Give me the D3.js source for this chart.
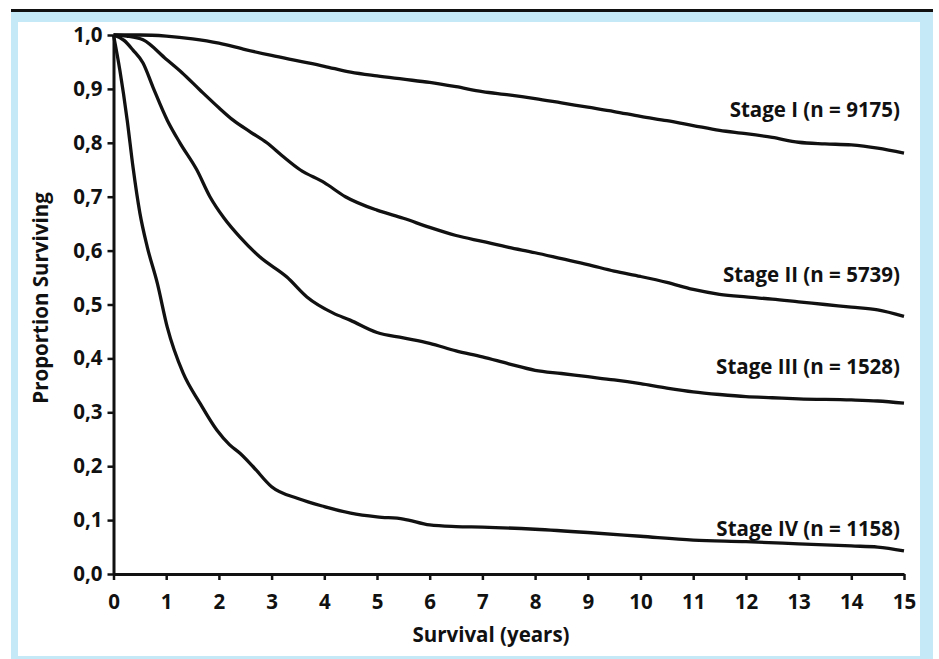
<!DOCTYPE html>
<html>
<head>
<meta charset="utf-8">
<script src="https://cdn.jsdelivr.net/npm/d3@7"></script>
<style>
  body { margin: 0; background: #fff; }
  text { font-family: "Open Sans", "Noto Sans", sans-serif; font-weight: 700; fill: #111; }
</style>
</head>
<body>
<div id="chart"></div>
<script>
// survival curves (years, proportion)
const stage1T = [0, 0.5, 1, 1.5, 2, 2.5, 3, 3.5, 4, 4.5, 5, 5.5, 6, 6.5, 7, 7.5, 8, 8.5, 9, 9.5, 10, 10.5, 11, 11.5, 12, 12.5, 13, 13.5, 14, 14.5, 15];
const stage1S = [1.0, 1.0, 0.998, 0.993, 0.985, 0.973, 0.962, 0.952, 0.942, 0.931, 0.924, 0.918, 0.912, 0.904, 0.895, 0.889, 0.882, 0.874, 0.866, 0.858, 0.849, 0.841, 0.832, 0.823, 0.817, 0.81, 0.801, 0.798, 0.796, 0.79, 0.781];

const stage2T = [0, 0.25, 0.56, 1, 1.3, 1.64, 2, 2.27, 2.6, 2.91, 3.2, 3.54, 4, 4.4, 5, 5.5, 6, 6.5, 7, 7.5, 8, 8.5, 9, 9.5, 10, 10.5, 11, 11.5, 12, 12.5, 13, 13.5, 14, 14.5, 15];
const stage2S = [1.0, 0.998, 0.991, 0.955, 0.93, 0.898, 0.865, 0.842, 0.82, 0.8, 0.776, 0.75, 0.726, 0.7, 0.675, 0.66, 0.643, 0.628, 0.617, 0.606, 0.596, 0.585, 0.574, 0.562, 0.552, 0.541, 0.528, 0.519, 0.514, 0.51, 0.505, 0.5, 0.495, 0.49, 0.478];

const stage3T = [0, 0.2, 0.37, 0.56, 0.75, 1.02, 1.26, 1.58, 1.83, 2.1, 2.4, 2.78, 3.29, 3.67, 4.17, 4.49, 5, 5.5, 6, 6.5, 7, 7.5, 8, 8.5, 9, 9.5, 10, 10.5, 11, 11.5, 12, 12.5, 13, 14, 14.5, 15];
const stage3S = [1.0, 0.99, 0.972, 0.948, 0.903, 0.842, 0.8, 0.75, 0.7, 0.66, 0.625, 0.588, 0.551, 0.514, 0.484, 0.471, 0.448, 0.438, 0.428, 0.414, 0.403, 0.39, 0.378, 0.372, 0.366, 0.36, 0.353, 0.345, 0.338, 0.333, 0.329, 0.327, 0.325, 0.323, 0.321, 0.317];

const stage4T = [0, 0.12, 0.26, 0.37, 0.5, 0.64, 0.83, 1.02, 1.32, 1.64, 1.96, 2.2, 2.4, 2.65, 3, 3.5, 4, 4.5, 5, 5.5, 6, 6.5, 7, 8, 9, 10, 11, 12, 13, 14, 14.5, 15];
const stage4S = [1.0, 0.935, 0.842, 0.755, 0.67, 0.607, 0.54, 0.458, 0.373, 0.317, 0.267, 0.24, 0.224, 0.199, 0.162, 0.14, 0.125, 0.113, 0.106, 0.102, 0.091, 0.088, 0.087, 0.083, 0.077, 0.07, 0.063, 0.06, 0.056, 0.052, 0.05, 0.043];

const stageLabels = ["Stage I (n = 9175)", "Stage II (n = 5739)", "Stage III (n = 1528)", "Stage IV (n = 1158)"];
const yTicks = [0, 0.1, 0.2, 0.3, 0.4, 0.5, 0.6, 0.7, 0.8, 0.9, 1.0];
const xTicks = d3.range(0, 16);

const width = 939, height = 659;
const fontSize = 20.5;

const svg = d3.select('#chart')
  .append('svg')
  .attr('width', width)
  .attr('height', height);

// frame: black rule on top, light blue border, white panel
svg.append('rect').attr('x', 11).attr('y', 12).attr('width', 922).attr('height', 647).attr('fill', '#c6e9f8');
svg.append('rect').attr('x', 11).attr('y', 9).attr('width', 922).attr('height', 3).attr('fill', '#111');
svg.append('rect').attr('x', 18).attr('y', 22).attr('width', 902).attr('height', 634).attr('fill', '#fff');

const x = d3.scaleLinear().domain([0, 15]).range([113.5, 904]);
const y = d3.scaleLinear().domain([0, 1]).range([574, 35]);

// axes
const gx = svg.append('g')
  .attr('transform', `translate(0,${y(0)})`)
  .call(d3.axisBottom(x).tickValues(xTicks).tickSize(6).tickPadding(14).tickSizeOuter(0));
const gy = svg.append('g')
  .attr('transform', `translate(${x(0)},0)`)
  .call(d3.axisLeft(y).tickValues(yTicks).tickSize(6).tickPadding(5).tickSizeOuter(0)
    .tickFormat(d => d3.format('.1f')(d).replace('.', ',')));

[gx, gy].forEach(g => {
  g.select('.domain').attr('stroke', '#111').attr('stroke-width', 3);
  g.selectAll('.tick line').attr('stroke', '#111').attr('stroke-width', 2.5);
  g.selectAll('.tick text').attr('font-size', fontSize).attr('font-family', null).attr('fill', '#111');
});

// curves
const line = d3.line()
  .x(d => x(d[0]))
  .y(d => y(d[1]))
  .curve(d3.curveMonotoneX);

const curves = [
  d3.zip(stage1T, stage1S),
  d3.zip(stage2T, stage2S),
  d3.zip(stage3T, stage3S),
  d3.zip(stage4T, stage4S)
];

svg.append('g')
  .selectAll('path')
  .data(curves)
  .enter()
  .append('path')
  .attr('d', line)
  .attr('fill', 'none')
  .attr('stroke', '#111')
  .attr('stroke-width', 3.3)
  .attr('stroke-linejoin', 'round');

// curve labels, right aligned above each curve's end
const labelY = [0.848, 0.541, 0.371, 0.071];
svg.append('g')
  .selectAll('text')
  .data(stageLabels)
  .enter()
  .append('text')
  .attr('x', 900)
  .attr('y', (d, i) => y(labelY[i]))
  .attr('text-anchor', 'end')
  .attr('font-size', fontSize)
  .text(d => d);

// axis titles
svg.append('text')
  .attr('x', 491)
  .attr('y', 642)
  .attr('text-anchor', 'middle')
  .attr('font-size', fontSize)
  .text('Survival (years)');

svg.append('text')
  .attr('transform', 'translate(48,298) rotate(-90)')
  .attr('text-anchor', 'middle')
  .attr('font-size', fontSize)
  .text('Proportion Surviving');
</script>
</body>
</html>
